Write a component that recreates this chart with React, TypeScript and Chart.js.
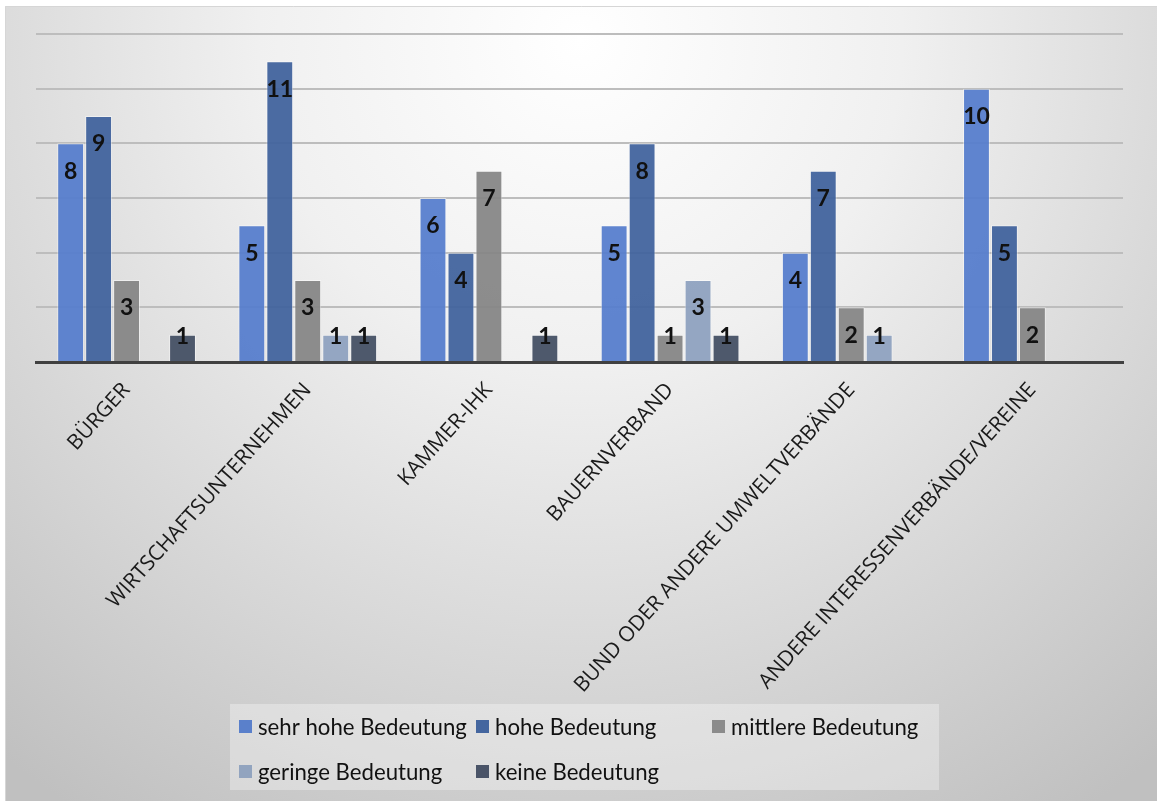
import React, { useEffect, useRef } from "react";
import { Chart, registerables } from "chart.js";

Chart.register(...registerables);

// ---- data ----
const categories = [
  "BÜRGER",
  "WIRTSCHAFTSUNTERNEHMEN",
  "KAMMER-IHK",
  "BAUERNVERBAND",
  "BUND ODER ANDERE UMWELTVERBÄNDE",
  "ANDERE INTERESSENVERBÄNDE/VEREINE",
];
const seriesNames = [
  "sehr hohe Bedeutung",
  "hohe Bedeutung",
  "mittlere Bedeutung",
  "geringe Bedeutung",
  "keine Bedeutung",
];
const sehrHohe = [8, 5, 6, 5, 4, 10];
const hohe = [9, 11, 4, 8, 7, 5];
const mittlere = [3, 3, 7, 1, 2, 2];
const geringe = [0, 1, 0, 3, 1, 0];
const keine = [1, 1, 1, 1, 0, 0];
const yTicks = [0, 2, 4, 6, 8, 10, 12];

// ---- styles ----
const seriesValues = [sehrHohe, hohe, mittlere, geringe, keine];
const seriesColors = [
  "rgba(84,124,204,0.93)",
  "rgba(62,97,156,0.93)",
  "rgba(132,132,132,0.93)",
  "rgba(141,160,190,0.93)",
  "rgba(66,77,98,0.93)",
];
const legendSwatch = ["#5a80cb", "#44669f", "#8b8b8b", "#92a4bf", "#4a5468"];

const backgroundPlugin = {
  id: "bgGradient",
  beforeDraw(chart: any) {
    const { ctx, width, height } = chart;
    ctx.save();
    const g = ctx.createRadialGradient(580, 40, 0, 580, 40, 920);
    g.addColorStop(0, "#ffffff");
    g.addColorStop(0.35, "#f0f0f0");
    g.addColorStop(1, "#c0c0c0");
    ctx.fillStyle = g;
    ctx.fillRect(5, 6, width - 5, height - 6);
    ctx.strokeStyle = "#d6d6d6";
    ctx.lineWidth = 1;
    ctx.beginPath();
    ctx.moveTo(5.5, height);
    ctx.lineTo(5.5, 6.5);
    ctx.lineTo(width, 6.5);
    ctx.stroke();
    ctx.restore();
  },
};

const dataLabelPlugin = {
  id: "barValueLabels",
  afterDatasetsDraw(chart: any) {
    const { ctx } = chart;
    ctx.save();
    ctx.font = "bold 23px Lato";
    ctx.fillStyle = "#111111";
    ctx.textAlign = "center";
    ctx.textBaseline = "middle";
    chart.data.datasets.forEach((ds: any, di: number) => {
      const meta = chart.getDatasetMeta(di);
      meta.data.forEach((el: any, i: number) => {
        const v = ds.data[i];
        if (v === null || v === undefined || v === 0) return;
        const y = Math.min(el.y + 28, el.base - 24);
        ctx.fillText(String(v), el.x, y);
      });
    });
    ctx.restore();
  },
};

const legendPlugin = {
  id: "customLegend",
  afterDraw(chart: any) {
    const { ctx } = chart;
    ctx.save();
    // legend panel
    ctx.fillStyle = "rgba(255,255,255,0.32)";
    ctx.fillRect(230, 704, 709, 86);
    ctx.font = "100px Lato";
    const w100 = ctx.measureText(seriesNames[0]).width;
    const size = (100 * 209) / w100;
    ctx.font = `${size.toFixed(2)}px Lato`;
    ctx.textAlign = "left";
    ctx.textBaseline = "middle";
    const cols = [239, 476, 712];
    const rows = [726.5, 771.5];
    seriesNames.forEach((name, i) => {
      const col = i < 3 ? i : i - 3;
      const row = i < 3 ? 0 : 1;
      const bx = cols[col];
      const cy = rows[row];
      ctx.fillStyle = legendSwatch[i];
      ctx.fillRect(bx, cy - 6.5, 13, 13);
      ctx.fillStyle = "#111111";
      ctx.fillText(name, bx + 19, cy + 1);
    });
    ctx.restore();
  },
};

export default function App() {
  const canvasRef = useRef<HTMLCanvasElement | null>(null);

  useEffect(() => {
    document.body.style.margin = "0";
    document.body.style.overflow = "hidden";
    const canvas = canvasRef.current;
    if (!canvas) return;
    const chart = new Chart(canvas, {
      type: "bar",
      data: {
        labels: categories,
        datasets: seriesNames.map((name, i) => ({
          label: name,
          data: seriesValues[i].map((v) => (v === 0 ? null : v)),
          backgroundColor: seriesColors[i],
          borderColor: "rgba(255,255,255,0.45)",
          borderWidth: 1,
          categoryPercentage: 0.772,
          barPercentage: 0.96,
        })),
      },
      options: {
        responsive: false,
        animation: false,
        events: [],
        layout: { padding: { left: 36, right: 34, top: 34, bottom: 0 } },
        plugins: {
          legend: { display: false },
          tooltip: { enabled: false },
          title: { display: false },
        },
        scales: {
          x: {
            grid: { display: false, drawTicks: false },
            border: { display: true, color: "#404040", width: 3 },
            ticks: {
              autoSkip: false,
              minRotation: 48,
              maxRotation: 48,
              padding: 16,
              color: "#1a1a1a",
              font: { family: "Open Sans", size: 21 },
            },
            afterFit: (scale: any) => {
              scale.height = 439;
            },
          },
          y: {
            min: 0,
            max: 12,
            ticks: { display: false, stepSize: 2 },
            grid: { color: "#bdbdbd", lineWidth: 2, drawTicks: false },
            border: { display: false },
            afterBuildTicks: (scale: any) => {
              scale.ticks = yTicks.map((v) => ({ value: v }));
            },
            afterFit: (scale: any) => {
              scale.width = 0;
            },
          },
        },
      },
      plugins: [backgroundPlugin, dataLabelPlugin, legendPlugin],
    });
    return () => chart.destroy();
  }, []);

  return (
    <div style={{ width: 1157, height: 801 }}>
      <canvas ref={canvasRef} width={1157} height={801} style={{ display: "block" }} />
    </div>
  );
}
